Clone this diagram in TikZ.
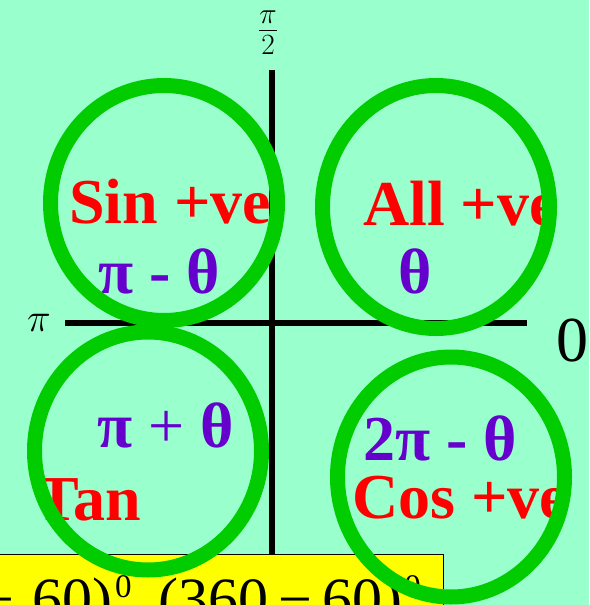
\RequirePackage{fix-cm}
\documentclass[tikz,border=0pt]{standalone}
\usepackage{fontspec}
\setmainfont{Liberation Serif}
\usepackage{tikz}

\definecolor{mintbg}{RGB}{153,255,204}
\definecolor{ringgreen}{RGB}{0,204,0}
\definecolor{signred}{RGB}{255,0,0}
\definecolor{anglepurple}{RGB}{102,0,204}
\definecolor{boxyellow}{RGB}{255,255,0}

\newcommand{\quadfont}{\fontsize{64}{70}\selectfont}
\newcommand{\degsup}{\raisebox{22pt}{\fontsize{33}{33}\selectfont 0}}

\begin{document}
\begin{tikzpicture}[
    x=1pt, y=-1pt,
    axisline/.style={line width=5.5pt},
    quadring/.style={draw=ringgreen, line width=15pt},
    signtext/.style={anchor=base west, inner sep=0pt, text=signred, font=\quadfont\bfseries},
    angletext/.style={anchor=base west, inner sep=0pt, text=anglepurple, font=\quadfont}
]

% --- HINTERGRUND ---
\useasboundingbox (0,0) rectangle (589,605);
\fill[mintbg] (0,0) rectangle (589,605);

% --- ACHSEN ---
\coordinate (pileft) at (65,323);
\coordinate (zeroright) at (527,323);
\coordinate (halfpitop) at (272,70);
\coordinate (axisfoot) at (272,554);
\draw[axisline] (pileft) -- (zeroright);
\draw[axisline] (halfpitop) -- (axisfoot);

\node (pilabel) at (39,323) {\fontsize{40}{40}\selectfont$\pi$};
\node (halfpilabel) at (268,33) {\fontsize{42}{42}\selectfont$\frac{\pi}{2}$};
\node[inner sep=0pt] (zerolabel) at (572,341) {\quadfont 0};

% --- GELBER KASTEN ---
\draw[fill=boxyellow, line width=1pt] (-5,554) rectangle (443,640);
\node[anchor=base west, inner sep=0pt, font=\fontsize{60}{60}\selectfont] (anglesum) at (-20,619)
  {+\hspace{19pt}60)\hspace{2pt}\degsup\hspace{27pt}(360\hspace{10pt}−\hspace{10pt}60)\hspace{2pt}\degsup};

% --- QUADRANTEN ---
\node[signtext] (sinsign) at (69,223) {Sin +ve};
\node[angletext] (sinangle) at (98,293) {\textbf{π - θ}};
\node[signtext] (allsign) at (363,225) {All +ve};
\node[angletext] (allangle) at (398,293) {\textbf{θ}};
\node[angletext] (tanangle) at (97,447) {\textbf{π} + \textbf{θ}};
\node[signtext] (tansign) at (36,520) {Tan};
\node[angletext] (cosangle) at (363,460) {\textbf{2π - θ}};
\node[signtext] (cossign) at (352,518) {Cos +ve};

% --- KREISE ---
\foreach \cx/\cy/\ry in {164/203/117.5, 436/207/121.5, 148/451/119, 451/477/120} {
  \draw[quadring] (\cx,\cy) ellipse (113.5 and \ry);
}

\end{tikzpicture}
\end{document}
